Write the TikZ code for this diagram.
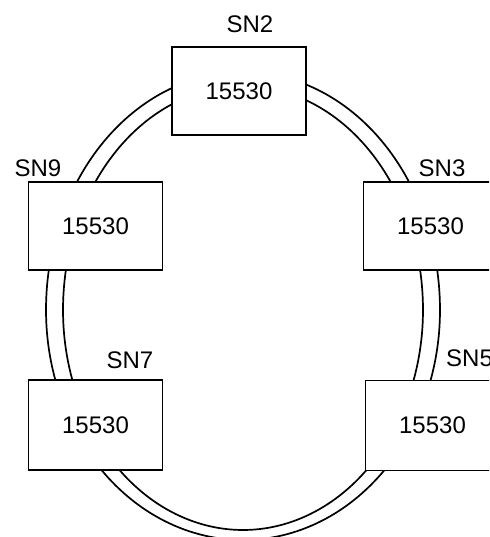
\documentclass[tikz,border=0pt]{standalone}
\usepackage{fontspec}
\setmainfont{Liberation Sans}
\begin{document}
\begin{tikzpicture}[x=1pt,y=-1pt,
  box/.style={draw,fill=white,line width=1.5pt,minimum width=134pt,minimum height=88pt,inner sep=0pt,font=\fontsize{24}{28}\selectfont},
  lbl/.style={inner sep=0pt,font=\fontsize{24}{28}\selectfont},
  ring/.style={line width=1.7pt}]
\useasboundingbox (0,0) rectangle (489,537);
\clip (0,0) rectangle (489,537);
% outer ring
\draw[ring] plot[domain=0:180,samples=120] ({243+197*cos(\x)},{310-238*sin(\x)})
  -- plot[domain=180:360,samples=120] ({243+197*cos(\x)},{310-230*sin(\x)}) -- cycle;
% inner ring
\draw[ring] plot[domain=0:180,samples=120] ({243+180*cos(\x)},{310-224*sin(\x)})
  -- plot[domain=180:360,samples=120] ({243+180*cos(\x)},{310-220*sin(\x)}) -- cycle;
% boxes
\node[box] (sn2) at (239,91) {15530};
\node[box] (sn9) at (95.5,226) {15530};
\node[box] (sn3) at (430.5,226) {15530};
\node[box,minimum height=90pt] (sn7) at (95.5,425) {15530};
\node[box,minimum height=90pt] (sn5) at (432.5,425.5) {15530};
% labels
\node[lbl] (l2) at (250,24) {SN2};
\node[lbl] (l9) at (38,168) {SN9};
\node[lbl] (l3) at (442,168) {SN3};
\node[lbl] (l7) at (130,360) {SN7};
\node[lbl,anchor=west] (l5) at (446,358) {SN5};
\end{tikzpicture}
\end{document}
